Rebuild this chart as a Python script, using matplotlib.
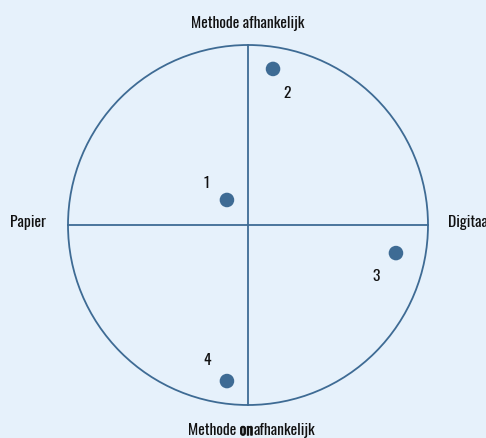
import numpy as np
import matplotlib.pyplot as plt
import matplotlib.patheffects as pe
from matplotlib.patches import Circle

plt.rcParams['font.family'] = ['Oswald', 'DejaVu Sans']

# quadrant positions (circle radius = 1)
nummers = ['1', '2', '3', '4']
x_waarden = [-0.117, 0.139, 0.822, -0.117]
y_waarden = [0.139, 0.867, -0.156, -0.867]
label_offset = [(-15, 12), (10, -18), (-14, -17), (-14, 15)]

as_boven = 'Methode afhankelijk'
as_links = 'Papier'
as_rechts = 'Digitaal'
as_onder = ['Methode ', 'on', 'afhankelijk']

achtergrond = '#E6F1FB'
blauw = '#3E6B94'
tekst = '#111111'
fs = 11.2

fig = plt.figure(figsize=(4.86, 4.38), dpi=100, facecolor=achtergrond)
ax = fig.add_axes([0, 0, 1, 1])
ax.set_facecolor(achtergrond)
r_px = 180.0
cx, cy = 248.0, 225.0
ax.set_xlim(-cx / r_px, (486 - cx) / r_px)
ax.set_ylim(-(438 - cy) / r_px, cy / r_px)
ax.axis('off')

ax.add_patch(Circle((0, 0), 1, fill=False, ec=blauw, lw=1.3))
ax.plot([0, 0], [-1, 1], color=blauw, lw=1.3)
ax.plot([-1, 1], [0, 0], color=blauw, lw=1.3)

ax.scatter(x_waarden, y_waarden, s=110, color=blauw, zorder=3, edgecolors='none')
for n, x, y, off in zip(nummers, x_waarden, y_waarden, label_offset):
    ax.annotate(n, (x, y), xytext=off, textcoords='offset points',
                ha='center', va='center', fontsize=fs, color=tekst)

ax.text(0, 1.094, as_boven, ha='center', va='baseline', fontsize=fs, color=tekst)
ax.text(-1.322, -0.011, as_links, ha='left', va='baseline', fontsize=fs, color=tekst)
ax.text(1.111, -0.011, as_rechts, ha='left', va='baseline', fontsize=fs, color=tekst)

# onderste label met vetgedrukt "on" (nep-vet via een omlijning)
fig.canvas.draw()
renderer = fig.canvas.get_renderer()
stukken = []
for i, s in enumerate(as_onder):
    t = ax.text(0, -1.168, s, ha='left', va='baseline', fontsize=fs, color=tekst)
    if i == 1:
        t.set_path_effects([pe.withStroke(linewidth=0.5, foreground=tekst)])
    stukken.append(t)
fig.canvas.draw()
breedtes = [t.get_window_extent(renderer).width for t in stukken]
breedtes[1] += 0.6
totaal = sum(breedtes)
start_px = ax.transData.transform((0.02, 0))[0] - totaal / 2
pos = start_px
for t, b in zip(stukken, breedtes):
    xd = ax.transData.inverted().transform((pos, 0))[0]
    t.set_x(xd)
    pos += b

fig.savefig('out.png', dpi=100, facecolor=achtergrond)
